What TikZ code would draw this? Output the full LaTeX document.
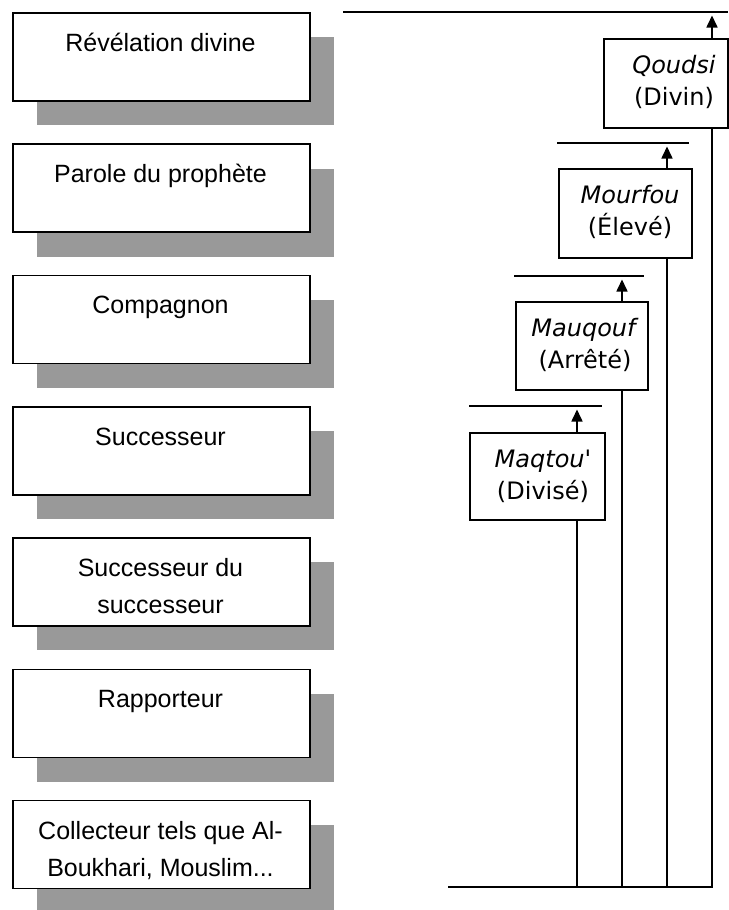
\documentclass[tikz,border=0pt]{standalone}
\usepackage{fontspec}
\setmainfont{Liberation Sans}
\newfontfamily\rfont{DejaVu Sans}
\usetikzlibrary{arrows.meta}
\definecolor{shadowgray}{RGB}{153,153,153}
\begin{document}
\begin{tikzpicture}[x=1pt,y=-1pt,
  lbox/.style={draw=black, line width=1.6pt, fill=white, minimum width=297pt, minimum height=88pt, inner sep=0pt, anchor=north west},
  shadowbox/.style={fill=shadowgray, minimum width=297pt, minimum height=88pt, inner sep=0pt, anchor=north west},
  ltext/.style={anchor=north, inner sep=0pt, align=center, font=\fontsize{25}{37}\selectfont},
  rbox/.style={draw=black, line width=1.6pt, fill=white, inner sep=0pt, anchor=north west},
  rtext/.style={anchor=north, inner sep=0pt, align=center, font=\rfont\fontsize{24}{32}\selectfont},
  lvl/.style={line width=1.6pt},
  uparrow/.style={line width=1.6pt, shorten >=3.5pt, arrows={-Triangle[length=12pt,width=11pt]}}
]
\useasboundingbox (0,0) rectangle (728,910);

% left column: shadows, boxes, texts
\node[shadowbox] (s0) at (37,37) {};
\node[lbox] (b0) at (12,12) {};
\node[ltext] (t0) at (160.5,27) {\rule{0pt}{24pt}Révélation divine};

\node[shadowbox] (s1) at (37,168.3) {};
\node[lbox] (b1) at (12,143.3) {};
\node[ltext] (t1) at (160.5,158.3) {\rule{0pt}{24pt}Parole du prophète};

\node[shadowbox] (s2) at (37,299.6) {};
\node[lbox] (b2) at (12,274.6) {};
\node[ltext] (t2) at (160.5,289.6) {\rule{0pt}{24pt}Compagnon};

\node[shadowbox] (s3) at (37,430.9) {};
\node[lbox] (b3) at (12,405.9) {};
\node[ltext] (t3) at (160.5,420.9) {\rule{0pt}{24pt}Successeur};

\node[shadowbox] (s4) at (37,562.2) {};
\node[lbox] (b4) at (12,537.2) {};
\node[ltext] (t4) at (160.5,552.2) {\rule{0pt}{24pt}Successeur du\\successeur};

\node[shadowbox] (s5) at (37,693.5) {};
\node[lbox] (b5) at (12,668.5) {};
\node[ltext] (t5) at (160.5,683.5) {\rule{0pt}{24pt}Rapporteur};

\node[shadowbox] (s6) at (37,824.8) {};
\node[lbox] (b6) at (12,799.8) {};
\node[ltext] (t6) at (160.5,814.8) {\rule{0pt}{24pt}Collecteur tels que Al-\\Boukhari, Mouslim...};

% right column boxes
\node[rbox, minimum width=124pt, minimum height=89pt] (q) at (603,38) {};
\node[rtext] (qt) at (674,49) {\rule{0pt}{24pt}\textit{Qoudsi}\\(Divin)};

\node[rbox, minimum width=133pt, minimum height=89pt] (mf) at (558,168) {};
\node[rtext] (mft) at (630,179) {\rule{0pt}{24pt}\textit{Mourfou}\\(Élevé)};

\node[rbox, minimum width=132pt, minimum height=88pt] (mq) at (515,301) {};
\node[rtext] (mqt) at (585,312) {\rule{0pt}{24pt}\textit{Mauqouf}\\(Arrêté)};

\node[rbox, minimum width=135pt, minimum height=87pt] (mt) at (469,432) {};
\node[rtext] (mtt) at (543,443) {\rule{0pt}{24pt}\textit{Maqtou'}\\(Divisé)};

% level lines
\coordinate (l0a) at (343,12);  \coordinate (l0b) at (728,12);
\coordinate (l1a) at (557,143); \coordinate (l1b) at (689,143);
\coordinate (l2a) at (514,276); \coordinate (l2b) at (644,276);
\coordinate (l3a) at (469,406); \coordinate (l3b) at (602,406);
\draw[lvl] (l0a) -- (l0b);
\draw[lvl] (l1a) -- (l1b);
\draw[lvl] (l2a) -- (l2b);
\draw[lvl] (l3a) -- (l3b);

% arrow targets on the level lines
\coordinate (a0) at (712,12);
\coordinate (a1) at (667,143);
\coordinate (a2) at (622,276);
\coordinate (a3) at (577,406);

% bottom line
\coordinate (bl) at (448,887);
\coordinate (br) at (712.8,887);
\draw[lvl] (bl) -- (br);

% arrows up
\draw[uparrow] (q.north -| a0) -- (a0);
\draw[uparrow] (mf.north -| a1) -- (a1);
\draw[uparrow] (mq.north -| a2) -- (a2);
\draw[uparrow] (mt.north -| a3) -- (a3);

% verticals down to bottom line
\draw[lvl] (q.south -| a0) -- (a0 |- bl);
\draw[lvl] (mf.south -| a1) -- (a1 |- bl);
\draw[lvl] (mq.south -| a2) -- (a2 |- bl);
\draw[lvl] (mt.south -| a3) -- (a3 |- bl);
\end{tikzpicture}
\end{document}
